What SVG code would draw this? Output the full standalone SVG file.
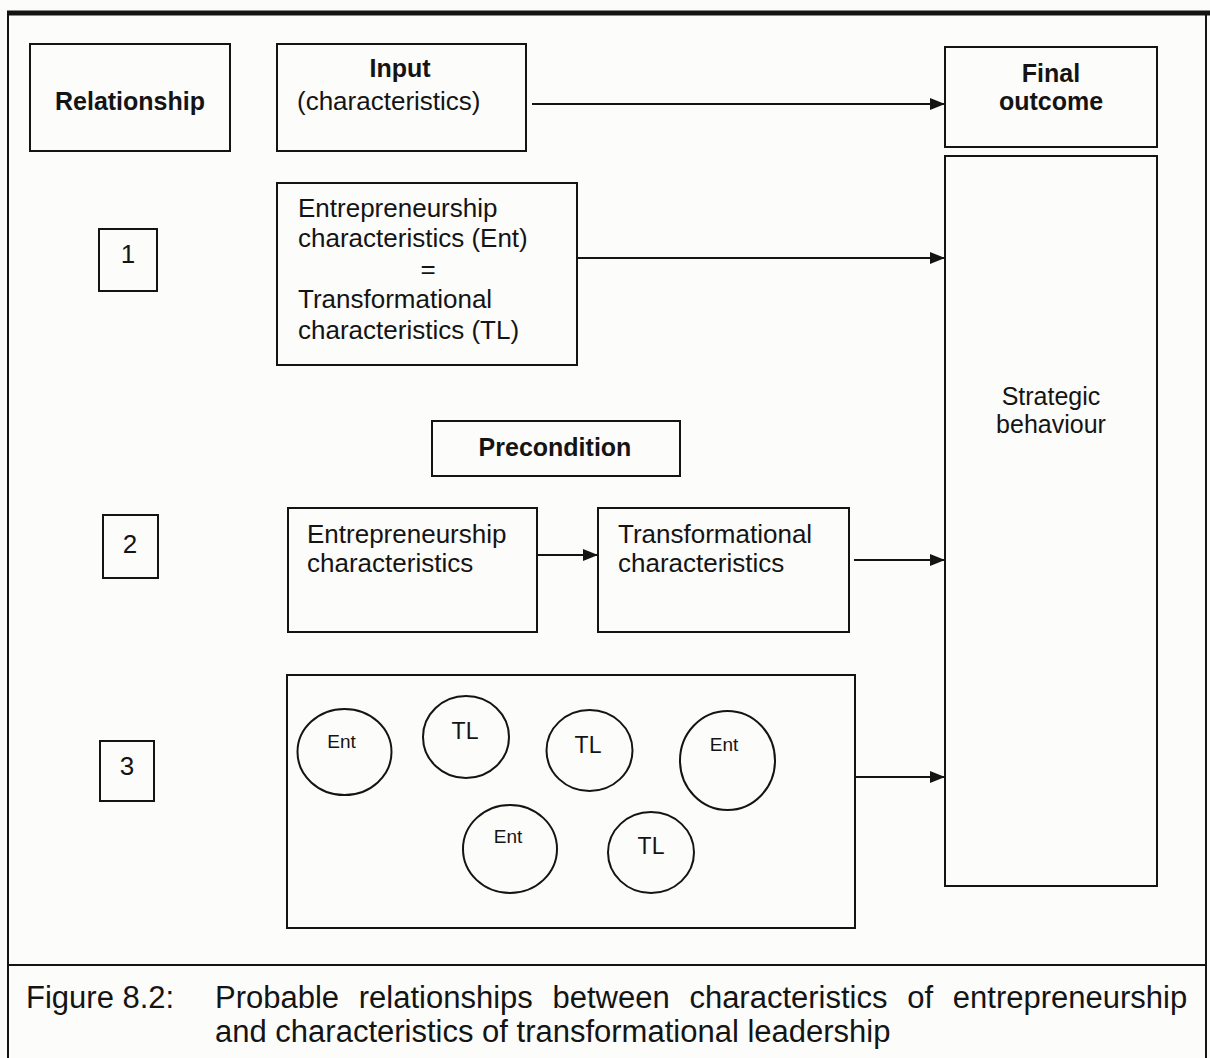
<svg xmlns="http://www.w3.org/2000/svg" width="1210" height="1058" viewBox="0 0 1210 1058">
  <style>
    .box { fill: none; stroke: #141414; stroke-width: 2; }
    .ring { fill: none; stroke: #141414; stroke-width: 2; }
    .frame { fill: none; stroke: #141414; stroke-width: 2; }
    .t { font-family: "Liberation Sans", Arial, Helvetica, sans-serif; fill: #141414; }
    .b { font-weight: bold; font-size: 25px; }
    .r { font-size: 26px; }
    .c { text-anchor: middle; }
    .ent { font-size: 19px; }
    .tl { font-size: 23px; }
    .cap { font-size: 31px; }
    .link { stroke: #141414; stroke-width: 2; fill: none; marker-end: url(#head); }
  </style>
  <defs>
    <marker id="head" viewBox="0 0 15 12" refX="15" refY="6" markerWidth="15" markerHeight="12" markerUnits="userSpaceOnUse" orient="auto">
      <path d="M0,0 L15,6 L0,12 Z" fill="#141414"/>
    </marker>
  </defs>

  <!-- page background -->
  <rect x="0" y="0" width="1210" height="1058" fill="#fcfcfa"/>

  <!-- figure frame -->
  <g id="frame">
    <rect x="7" y="10.5" width="1203" height="5" fill="#141414"/>
    <line class="frame" x1="8" y1="13" x2="8" y2="1058"/>
    <line class="frame" x1="1206" y1="13" x2="1206" y2="1058"/>
    <line class="frame" x1="8" y1="965" x2="1206" y2="965" stroke-width="1.5"/>
  </g>

  <!-- column headings -->
  <g id="relationship">
    <rect class="box" x="30" y="44" width="200" height="107"/>
    <text class="t b c" x="130" y="110" font-size="26">Relationship</text>
  </g>
  <g id="input">
    <rect class="box" x="277" y="44" width="249" height="107"/>
    <text class="t b c" x="400" y="77">Input</text>
    <text class="t r" x="297" y="110">(characteristics)</text>
  </g>
  <g id="final-outcome">
    <rect class="box" x="945" y="47" width="212" height="100"/>
    <text class="t b c" x="1051" y="82">Final</text>
    <text class="t b c" x="1051" y="110">outcome</text>
  </g>
  <g id="strategic-behaviour">
    <rect class="box" x="945" y="156" width="212" height="730"/>
    <text class="t c" x="1051" y="405" font-size="25">Strategic</text>
    <text class="t c" x="1051" y="433" font-size="25">behaviour</text>
  </g>

  <!-- relationship 1 -->
  <g id="rel-1">
    <rect class="box" x="99" y="229" width="58" height="62"/>
    <text class="t r c" x="128" y="263">1</text>
  </g>
  <g id="ent-equals-tl">
    <rect class="box" x="277" y="183" width="300" height="182"/>
    <text class="t r" x="298" y="217">Entrepreneurship</text>
    <text class="t r" x="298" y="247">characteristics (Ent)</text>
    <text class="t r c" x="428" y="278">=</text>
    <text class="t r" x="298" y="308">Transformational</text>
    <text class="t r" x="298" y="339">characteristics (TL)</text>
  </g>

  <!-- relationship 2 -->
  <g id="precondition">
    <rect class="box" x="432" y="421" width="248" height="55"/>
    <text class="t b c" x="555" y="456">Precondition</text>
  </g>
  <g id="rel-2">
    <rect class="box" x="103" y="515" width="55" height="63"/>
    <text class="t r c" x="130" y="553">2</text>
  </g>
  <g id="ent-characteristics">
    <rect class="box" x="288" y="508" width="249" height="124"/>
    <text class="t r" x="307" y="543">Entrepreneurship</text>
    <text class="t r" x="307" y="572">characteristics</text>
  </g>
  <g id="tl-characteristics">
    <rect class="box" x="598" y="508" width="251" height="124"/>
    <text class="t r" x="618" y="543">Transformational</text>
    <text class="t r" x="618" y="572">characteristics</text>
  </g>

  <!-- relationship 3 -->
  <g id="rel-3">
    <rect class="box" x="100" y="741" width="54" height="60"/>
    <text class="t r c" x="127" y="775">3</text>
  </g>
  <g id="mixed-set">
    <rect class="box" x="287" y="675" width="568" height="253"/>
    <g id="ent-a">
      <ellipse class="ring" cx="344.5" cy="752" rx="47" ry="43"/>
      <text class="t ent c" x="341.5" y="748">Ent</text>
    </g>
    <g id="tl-a">
      <ellipse class="ring" cx="466" cy="737" rx="43" ry="41"/>
      <text class="t tl c" x="465" y="739">TL</text>
    </g>
    <g id="tl-b">
      <ellipse class="ring" cx="589.5" cy="750.5" rx="43" ry="40.5"/>
      <text class="t tl c" x="588" y="753">TL</text>
    </g>
    <g id="ent-b">
      <ellipse class="ring" cx="727.5" cy="760.5" rx="47.5" ry="49.5"/>
      <text class="t ent c" x="724" y="751">Ent</text>
    </g>
    <g id="ent-c">
      <ellipse class="ring" cx="510" cy="849" rx="47" ry="44"/>
      <text class="t ent c" x="508" y="843">Ent</text>
    </g>
    <g id="tl-c">
      <ellipse class="ring" cx="651" cy="852.5" rx="43" ry="40.5"/>
      <text class="t tl c" x="651" y="854">TL</text>
    </g>
  </g>

  <!-- connectors -->
  <g id="connectors">
    <line class="link" x1="532" y1="104" x2="945" y2="104"/>
    <line class="link" x1="577" y1="258" x2="945" y2="258"/>
    <line class="link" x1="537" y1="555" x2="598" y2="555"/>
    <line class="link" x1="854" y1="560" x2="945" y2="560"/>
    <line class="link" x1="855" y1="777" x2="945" y2="777"/>
  </g>

  <!-- caption -->
  <g id="caption">
    <text class="t cap" x="26" y="1008">Figure 8.2:</text>
    <text class="t cap" y="1008">
      <tspan x="215">Probable</tspan>
      <tspan x="358.8">relationships</tspan>
      <tspan x="552.5">between</tspan>
      <tspan x="689.4">characteristics</tspan>
      <tspan x="907.2">of</tspan>
      <tspan x="952.8">entrepreneurship</tspan>
    </text>
    <text class="t cap" x="215" y="1042">and characteristics of transformational leadership</text>
  </g>
</svg>
